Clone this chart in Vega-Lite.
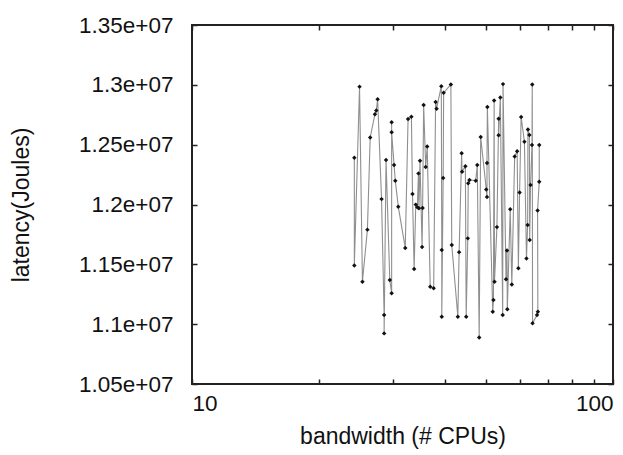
{
  "$schema": "https://vega.github.io/schema/vega-lite/v6.json",
  "width": 421,
  "height": 359,
  "autosize": "none",
  "padding": {"left": 192, "top": 25, "right": 10, "bottom": 71},
  "background": "white",
  "config": {
    "view": {"stroke": "#222", "strokeWidth": 2},
    "font": "Liberation Sans",
    "axis": {
      "grid": false,
      "domain": false,
      "tickColor": "#222",
      "tickWidth": 1.5,
      "tickSize": -5,
      "labelFont": "Liberation Sans",
      "labelFontSize": 22.5,
      "labelColor": "#111",
      "titleFont": "Liberation Sans",
      "titleFontSize": 23,
      "titleFontWeight": "normal",
      "titleColor": "#111"
    }
  },
  "data": {
    "values": [
      {"i": 1, "bandwidth": 24.3, "latency": 12390000},
      {"i": 2, "bandwidth": 24.3, "latency": 11490000},
      {"i": 3, "bandwidth": 25.0, "latency": 12985000},
      {"i": 4, "bandwidth": 25.4, "latency": 11355000},
      {"i": 5, "bandwidth": 26.1, "latency": 11790000},
      {"i": 6, "bandwidth": 26.5, "latency": 12560000},
      {"i": 7, "bandwidth": 27.2, "latency": 12755000},
      {"i": 8, "bandwidth": 27.4, "latency": 12785000},
      {"i": 9, "bandwidth": 27.6, "latency": 12880000},
      {"i": 10, "bandwidth": 28.2, "latency": 12045000},
      {"i": 11, "bandwidth": 28.6, "latency": 11077000},
      {"i": 12, "bandwidth": 28.6, "latency": 10923000},
      {"i": 13, "bandwidth": 28.9, "latency": 12372000},
      {"i": 14, "bandwidth": 29.5, "latency": 11369000},
      {"i": 15, "bandwidth": 29.8, "latency": 11258000},
      {"i": 16, "bandwidth": 29.8, "latency": 12687000},
      {"i": 17, "bandwidth": 29.8, "latency": 12603000},
      {"i": 18, "bandwidth": 30.2, "latency": 12330000},
      {"i": 19, "bandwidth": 30.4, "latency": 12199000},
      {"i": 20, "bandwidth": 30.9, "latency": 11982000},
      {"i": 21, "bandwidth": 32.1, "latency": 11637000},
      {"i": 22, "bandwidth": 32.6, "latency": 12714000},
      {"i": 23, "bandwidth": 33.2, "latency": 12734000},
      {"i": 24, "bandwidth": 33.4, "latency": 12088000},
      {"i": 25, "bandwidth": 33.7, "latency": 11461000},
      {"i": 26, "bandwidth": 34.0, "latency": 11999000},
      {"i": 27, "bandwidth": 34.3, "latency": 11976000},
      {"i": 28, "bandwidth": 34.5, "latency": 12260000},
      {"i": 29, "bandwidth": 34.6, "latency": 11968000},
      {"i": 30, "bandwidth": 34.8, "latency": 12366000},
      {"i": 31, "bandwidth": 35.2, "latency": 11645000},
      {"i": 32, "bandwidth": 35.3, "latency": 11970000},
      {"i": 33, "bandwidth": 35.5, "latency": 12831000},
      {"i": 34, "bandwidth": 35.9, "latency": 12314000},
      {"i": 35, "bandwidth": 36.2, "latency": 12484000},
      {"i": 36, "bandwidth": 36.8, "latency": 11313000},
      {"i": 37, "bandwidth": 37.5, "latency": 11301000},
      {"i": 38, "bandwidth": 37.9, "latency": 12857000},
      {"i": 39, "bandwidth": 38.1, "latency": 12801000},
      {"i": 40, "bandwidth": 39.1, "latency": 12989000},
      {"i": 41, "bandwidth": 39.2, "latency": 11620000},
      {"i": 42, "bandwidth": 39.2, "latency": 11062000},
      {"i": 43, "bandwidth": 39.5, "latency": 12222000},
      {"i": 44, "bandwidth": 39.6, "latency": 12933000},
      {"i": 45, "bandwidth": 41.2, "latency": 13003000},
      {"i": 46, "bandwidth": 41.4, "latency": 11661000},
      {"i": 47, "bandwidth": 42.8, "latency": 11062000},
      {"i": 48, "bandwidth": 43.1, "latency": 11602000},
      {"i": 49, "bandwidth": 43.7, "latency": 12428000},
      {"i": 50, "bandwidth": 43.8, "latency": 12274000},
      {"i": 51, "bandwidth": 44.6, "latency": 12320000},
      {"i": 52, "bandwidth": 44.8, "latency": 11062000},
      {"i": 53, "bandwidth": 45.2, "latency": 11717000},
      {"i": 54, "bandwidth": 45.3, "latency": 12177000},
      {"i": 55, "bandwidth": 45.6, "latency": 12205000},
      {"i": 56, "bandwidth": 47.2, "latency": 12199000},
      {"i": 57, "bandwidth": 47.6, "latency": 12330000},
      {"i": 58, "bandwidth": 48.1, "latency": 10888000},
      {"i": 59, "bandwidth": 48.5, "latency": 12564000},
      {"i": 60, "bandwidth": 50.0, "latency": 12126000},
      {"i": 61, "bandwidth": 50.2, "latency": 12062000},
      {"i": 62, "bandwidth": 50.2, "latency": 12346000},
      {"i": 63, "bandwidth": 50.3, "latency": 12815000},
      {"i": 64, "bandwidth": 51.8, "latency": 11104000},
      {"i": 65, "bandwidth": 52.0, "latency": 11202000},
      {"i": 66, "bandwidth": 52.2, "latency": 12870000},
      {"i": 67, "bandwidth": 52.3, "latency": 11355000},
      {"i": 68, "bandwidth": 53.0, "latency": 11811000},
      {"i": 69, "bandwidth": 53.5, "latency": 12717000},
      {"i": 70, "bandwidth": 53.5, "latency": 12578000},
      {"i": 71, "bandwidth": 54.0, "latency": 12894000},
      {"i": 72, "bandwidth": 54.7, "latency": 11077000},
      {"i": 73, "bandwidth": 54.8, "latency": 13006000},
      {"i": 74, "bandwidth": 55.7, "latency": 11376000},
      {"i": 75, "bandwidth": 56.0, "latency": 11616000},
      {"i": 76, "bandwidth": 56.1, "latency": 11125000},
      {"i": 77, "bandwidth": 57.0, "latency": 11961000},
      {"i": 78, "bandwidth": 57.5, "latency": 11331000},
      {"i": 79, "bandwidth": 58.4, "latency": 12402000},
      {"i": 80, "bandwidth": 59.2, "latency": 12445000},
      {"i": 81, "bandwidth": 59.6, "latency": 11467000},
      {"i": 82, "bandwidth": 60.0, "latency": 12101000},
      {"i": 83, "bandwidth": 60.5, "latency": 12731000},
      {"i": 84, "bandwidth": 61.6, "latency": 12525000},
      {"i": 85, "bandwidth": 62.3, "latency": 11548000},
      {"i": 86, "bandwidth": 62.7, "latency": 11829000},
      {"i": 87, "bandwidth": 62.8, "latency": 12626000},
      {"i": 88, "bandwidth": 63.3, "latency": 12581000},
      {"i": 89, "bandwidth": 63.4, "latency": 11703000},
      {"i": 90, "bandwidth": 63.7, "latency": 12163000},
      {"i": 91, "bandwidth": 64.2, "latency": 12497000},
      {"i": 92, "bandwidth": 64.3, "latency": 13003000},
      {"i": 93, "bandwidth": 64.4, "latency": 11007000},
      {"i": 94, "bandwidth": 66.0, "latency": 11076000},
      {"i": 95, "bandwidth": 66.3, "latency": 11104000},
      {"i": 96, "bandwidth": 66.2, "latency": 11949000},
      {"i": 97, "bandwidth": 66.8, "latency": 12191000},
      {"i": 98, "bandwidth": 66.8, "latency": 12497000}
    ]
  },
  "layer": [
    {
      "mark": {"type": "line", "color": "#8f8f8f", "strokeWidth": 1.1},
      "encoding": {
        "x": {
          "field": "bandwidth", "type": "quantitative",
          "scale": {"type": "log", "domain": [10, 100]},
          "axis": {
            "title": "bandwidth (# CPUs)",
            "values": [10, 20, 30, 40, 50, 60, 70, 80, 90, 100],
            "labelExpr": "(datum.value == 10 || datum.value == 100) ? format(datum.value, 'd') : ''",
            "labelPadding": 13,
            "titlePadding": 11
          }
        },
        "y": {
          "field": "latency", "type": "quantitative",
          "scale": {"domain": [10500000, 13500000], "zero": false},
          "axis": {
            "title": "latency(Joules)",
            "values": [10500000, 11000000, 11500000, 12000000, 12500000, 13000000, 13500000],
            "labelExpr": "replace(format(datum.value, '.3~e'), 'e+', 'e+0')",
            "labelPadding": 24,
            "titlePadding": 45
          }
        },
        "order": {"field": "i", "type": "quantitative"}
      }
    },
    {
      "mark": {"type": "point", "shape": "diamond", "filled": true, "color": "#111", "size": 20, "opacity": 1},
      "encoding": {
        "x": {
          "field": "bandwidth", "type": "quantitative",
          "scale": {"type": "log", "domain": [10, 100]},
          "axis": {
            "orient": "top", "title": null, "labels": false,
            "values": [10, 20, 30, 40, 50, 60, 70, 80, 90, 100]
          }
        },
        "y": {
          "field": "latency", "type": "quantitative",
          "scale": {"domain": [10500000, 13500000], "zero": false},
          "axis": {
            "orient": "right", "title": null, "labels": false,
            "values": [10500000, 11000000, 11500000, 12000000, 12500000, 13000000, 13500000]
          }
        }
      }
    }
  ],
  "resolve": {"scale": {"x": "independent", "y": "independent"}}
}
